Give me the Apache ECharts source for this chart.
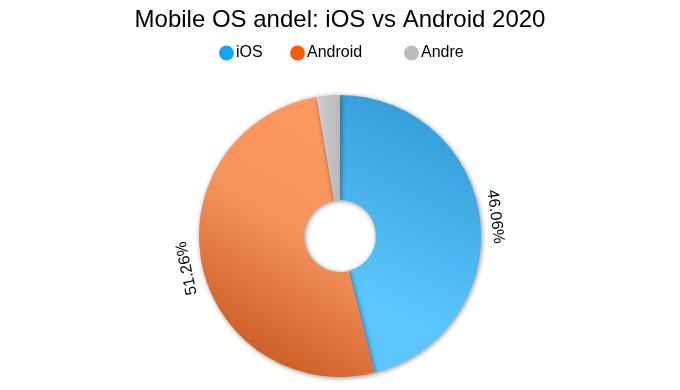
<!DOCTYPE html>
<html><head><meta charset="utf-8">
<script src="https://cdn.jsdelivr.net/npm/echarts@6/dist/echarts.min.js"></script>
<style>html,body{margin:0;padding:0;background:#fff}#c{width:680px;height:390px}</style>
</head><body><div id="c"></div>
<script>
const titleText = 'Mobile OS andel: iOS vs Android 2020';
const categories = ['iOS', 'Android', 'Andre'];
const shares = [46.06, 51.26, 2.68];
const showLabel = [true, true, false];

const legendColors = ['#14a5f5', '#ff5a0a', '#bdbdbd'];
const sliceColors = [
  {type:'linear', x:1, y:0, x2:0.3, y2:0.75, colorStops:[{offset:0,color:'#2c95cf'},{offset:1,color:'#5bc6fe'}]},
  {type:'linear', x:0.9, y:0.1, x2:0.1, y2:0.95, colorStops:[{offset:0,color:'#fe9a60'},{offset:0.45,color:'#f5915a'},{offset:1,color:'#c4521c'}]},
  {type:'linear', x:0, y:0, x2:1, y2:0, colorStops:[{offset:0,color:'#cfcfcf'},{offset:1,color:'#b8b8b8'}]}
];
const font = 'Helvetica, "Liberation Sans", Arial, sans-serif';

// tangential rotation of each label, derived from the slice mid angles
const total = shares.reduce((a,b)=>a+b,0);
let acc = 0;
const rotations = shares.map(v => { const mid = (acc + v/2)/total*360; acc += v; return -mid; });

const chart = echarts.init(document.getElementById('c'));
const legendLeft = [214, 285, 399];
chart.setOption({
  animation:false,
  title:{text:titleText, left:'center', top:3, textStyle:{fontFamily:font, fontSize:24, fontWeight:'normal', color:'#000'}},
  legend: categories.map((c,i)=>({
    data:[{name:c, itemStyle:{color:legendColors[i], shadowBlur:0}}], left:legendLeft[i], top:40, icon:'circle', itemWidth:15, itemHeight:15, itemGap:0,
    textStyle:{fontFamily:font, fontSize:16, color:'#000', padding:[0,0,0,-3]}
  })),
  color: legendColors,
  series:[{
    type:'pie', center:[340,236], radius:[36,141], startAngle:90, clockwise:true,
    itemStyle:{shadowBlur:5, shadowColor:'rgba(0,0,0,0.45)', shadowOffsetX:1, shadowOffsetY:1},
    label:{show:false},
    labelLine:{show:false},
    emphasis:{disabled:true},
    data: categories.map((c,i)=>({name:c, value:shares[i], itemStyle:{color:sliceColors[i]}}))
  },{
    type:'pie', center:[340,236], radius:[141,166], startAngle:90, clockwise:true, silent:true,
    itemStyle:{color:'rgba(0,0,0,0)'},
    label:{position:'inside', formatter:'{d}%', fontFamily:font, fontSize:16, color:'#000'},
    labelLine:{show:false},
    emphasis:{disabled:true},
    data: categories.map((c,i)=>({name:c, value:shares[i],
      label:{show:showLabel[i], rotate:rotations[i]}}))
  }]
});
</script></body></html>
